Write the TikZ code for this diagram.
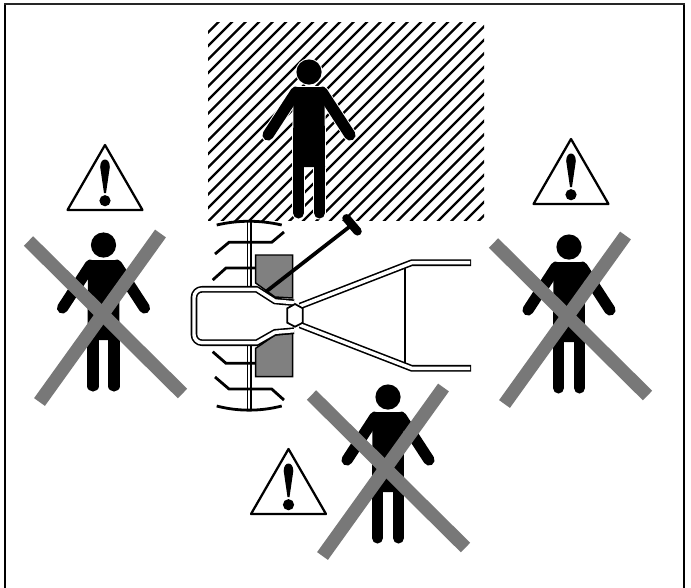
\documentclass[tikz,border=0pt]{standalone}
\tikzset{
  x=0.75pt,y=-0.75pt,
  hatchline/.style={line width=1.7pt,black},
  xbar/.style={line width=10pt,color=xgray},
  tine/.style={line width=2.1pt,black,line join=miter},
  arcline/.style={line width=2.1pt,black},
  tubeout/.style={line width=5pt,black,line join=round},
  tubein/.style={line width=2.6pt,white,line join=round},
  limb/.style={line width=8.4pt,line cap=round},
  leg/.style={line width=8.3pt,line cap=round},
  warnline/.style={line width=1.7pt,black,fill=white,line join=round},
  blockfill/.style={fill=blockgray,draw=black,line width=1.1pt},
}
\definecolor{xgray}{gray}{0.47}
\definecolor{blockgray}{gray}{0.5}
\newcommand{\personshape}[2]{%
  \begin{scope}[shift={(#1,#2)}]
    \fill (0,0) circle[radius=12.6];
    \draw[limb] (-41,63) -- (-13,20);
    \draw[limb] (41,63) -- (13,20);
    \fill (-15.5,15) -- (15.5,15) -- (16,95) -- (-16,95) -- cycle;
    \draw[leg] (-10.5,95) -- (-10.5,141);
    \draw[leg] (10.5,95) -- (10.5,141);
  \end{scope}}
\newcommand{\personhalo}[2]{%
  \begin{scope}[shift={(#1,#2)},white]
    \draw[white,line width=1.5pt] (0,0) circle[radius=12.6];
    \draw[limb,line width=9.8pt] (-41,63) -- (-13,20);
    \draw[limb,line width=9.8pt] (41,63) -- (13,20);
    \draw[white,line width=1.5pt,fill=white] (-15.5,15) -- (15.5,15) -- (16,95) -- (-16,95) -- cycle;
    \draw[leg,line width=9.7pt] (-10.5,95) -- (-10.5,141);
    \draw[leg,line width=9.7pt] (10.5,95) -- (10.5,141);
  \end{scope}}
\newcommand{\crossbars}[2]{%
  \begin{scope}[shift={(#1,#2)}]
    \draw[xbar] (28.5,241) -- (182.5,393.5);
    \draw[xbar] (160.5,233.5) -- (39.5,402);
  \end{scope}}
\newcommand{\warnsign}[2]{%
  \begin{scope}[shift={(#1,#2)}]
    \draw[warnline] (0,0) -- (37.5,65) -- (-37.5,65) -- cycle;
    \fill (-4.8,22) .. controls (-4.8,12) and (4.8,12) .. (4.8,22) -- (1,48) -- (-1,48) -- cycle;
    \fill (0,55.7) circle[radius=5.6];
  \end{scope}}
\begin{document}
\begin{tikzpicture}
\useasboundingbox (0,0) rectangle (691,587);
\fill[white] (0,0) rectangle (691,587);
\draw[line width=2pt] (5,588) -- (5,3.5);
\draw[line width=2pt] (684,588) -- (684,3.5);
\draw[line width=1.3pt,black!85] (4,4.2) -- (685,4.2);
% hatched zone
\begin{scope}
  \clip (208,22) rectangle (484,220);
  \foreach \k in {0,...,38}{
    \draw[hatchline] ({-30+\k*13.5},230) -- ({-30+\k*13.5+230},0);
  }
\end{scope}
\personhalo{309}{72}
\personshape{309}{72}
% machine
\draw[blockfill] (255.7,255) -- (292.7,255) -- (292.7,298) -- (275,297) -- (255.7,283) -- cycle;
\draw[blockfill] (255.7,348.3) -- (275,335) -- (292.7,333.3) -- (292.7,376.7) -- (255.7,376.7) -- cycle;
\draw[line width=3.8pt,black] (249.3,221) -- (249.3,410);
\draw[line width=1.5pt,white] (249.3,221) -- (249.3,410);
\draw[arcline] (216.7,225) .. controls (238,220) and (260,220) .. (281.7,225);
\draw[arcline] (216.7,406) .. controls (238,411.5) and (260,411.5) .. (281.7,406);
\draw[tine] (215,254) -- (229,242.3) -- (271.7,242.3) -- (284,232);
\draw[tine] (212.7,280) -- (226,268) -- (255.7,268);
\draw[tine] (212.7,351.7) -- (226,363.3) -- (255.7,363.3);
\draw[tine] (215,377) -- (229,389) -- (271.7,389) -- (284,400);
\path[fill=white] (194,297) [rounded corners=6pt] -- (194,289.3) -- (256.7,289.3) [sharp corners] -- (275,301) -- (294,302.7) -- (294,330.7) -- (275,332.3) -- (256.7,342.7) [rounded corners=6pt] -- (194,342.7) -- (194,297) -- cycle;
\draw[tubeout] (294,302.7) -- (275,301) -- (256.7,289.3) [rounded corners=6pt] -- (194,289.3) -- (194,342.7) [sharp corners] -- (256.7,342.7) -- (275,332.3) -- (294,330.7);
\draw[tubein] (294,302.7) -- (275,301) -- (256.7,289.3) [rounded corners=6pt] -- (194,289.3) -- (194,342.7) [sharp corners] -- (256.7,342.7) -- (275,332.3) -- (294,330.7);
\draw[line width=2.8pt,black] (266,291.7) -- (351.7,225);
\draw[line width=6.4pt,black,line cap=round] (346.5,218.3) -- (357.5,231.3);
\draw[line width=2.1pt] (405,266) -- (405,365);
\draw[tubeout] (300,306) -- (411.7,262.7) -- (471,262.7);
\draw[tubeout] (300,325) -- (411.7,368.3) -- (471,368.3);
\draw[tubein] (300,306) -- (411.7,262.7) -- (470,262.7);
\draw[tubein] (300,325) -- (411.7,368.3) -- (470,368.3);
\draw[line width=1.3pt,fill=white] (295,304) -- (302.7,308.3) -- (302.7,322.7) -- (295,326.7) -- (287.3,322.7) -- (287.3,308.3) -- cycle;
% signs
\warnsign{105}{145}
\warnsign{571}{139}
\warnsign{288.5}{449}
% excluded people
\personshape{103.5}{245}
\personshape{569}{247}
\personshape{388}{397}
\crossbars{0}{0}
\crossbars{465}{2}
\crossbars{283}{154}
\end{tikzpicture}
\end{document}
